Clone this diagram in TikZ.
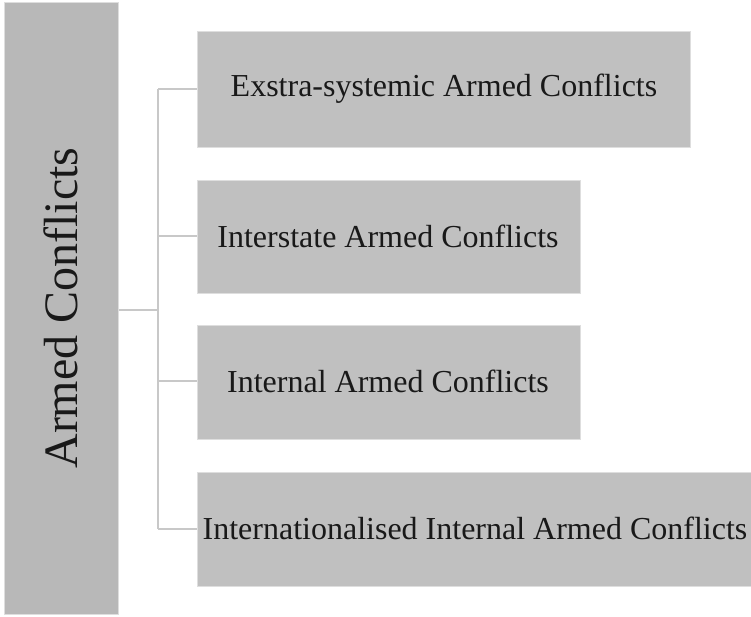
\documentclass[tikz,border=0pt]{standalone}
\usepackage{fontspec}
\setmainfont{Liberation Serif}
\definecolor{boxgray}{RGB}{192,192,192}
\definecolor{maingray}{RGB}{184,184,184}
\definecolor{linegray}{RGB}{200,200,200}
\definecolor{edgegray}{RGB}{222,222,222}
\begin{document}
\begin{tikzpicture}[x=1pt,y=-1pt,
  catbox/.style={draw=edgegray,line width=1pt,fill=boxgray,inner sep=0pt,anchor=north west,font=\fontsize{32}{36}\selectfont,text=black!90},
  conn/.style={draw=linegray,line width=2.5pt}]
\useasboundingbox (0,0) rectangle (751,616);
\node[draw=edgegray,line width=1pt,fill=maingray,inner sep=0pt,anchor=north west,minimum width=114pt,minimum height=612pt] (main) at (4,2) {};
\node[rotate=90,font=\fontsize{48}{52}\selectfont,text=black!90] (maintext) at (61,308) {Armed Conflicts};
\node[catbox,minimum width=493pt,minimum height=116pt] (b1) at (197,31) {};
\node[catbox,minimum width=383pt,minimum height=113pt] (b2) at (197,180) {};
\node[catbox,minimum width=383pt,minimum height=114pt] (b3) at (197,325) {};
\node[catbox,minimum width=556pt,minimum height=114pt] (b4) at (197,472) {};
\node[font=\fontsize{32}{36}\selectfont,text=black!90] (t1) at (444,89) {Exstra-systemic Armed Conflicts};
\node[font=\fontsize{32}{36}\selectfont,text=black!90] (t2) at (388,236) {Interstate Armed Conflicts};
\node[font=\fontsize{32}{36}\selectfont,text=black!90] (t3) at (388,381) {Internal Armed Conflicts};
\node[font=\fontsize{32}{36}\selectfont,text=black!90] (t4) at (475,528) {Internationalised Internal Armed Conflicts};
\coordinate (jtop) at (158,89);
\coordinate (jbot) at (158,529);
\coordinate (jmid) at (158,310);
\draw[conn] (main.east |- jmid) -- (jmid);
\draw[conn] (jtop) -- (jbot);
\draw[conn] (jtop) -- (b1.west |- jtop);
\draw[conn] (158,236) -- (b2.west |- 0,236);
\draw[conn] (158,381) -- (b3.west |- 0,381);
\draw[conn] (jbot) -- (b4.west |- jbot);
\end{tikzpicture}
\end{document}
